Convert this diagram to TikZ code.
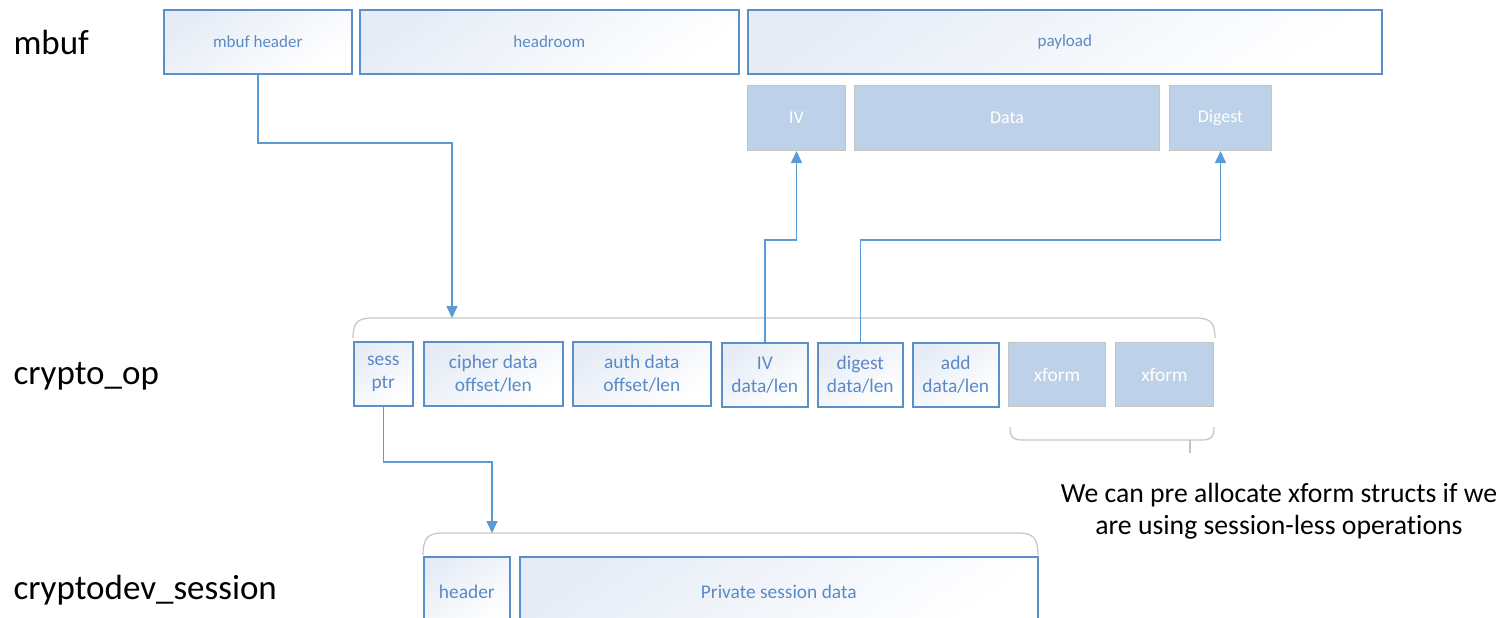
\documentclass[tikz,border=0pt]{standalone}
\usepackage{fontspec}
\setmainfont{Carlito}[Ligatures=NoCommon]
\usetikzlibrary{arrows.meta}
\definecolor{edgeblue}{HTML}{5B8FC9}
\definecolor{txtblue}{HTML}{5A8AC6}
\definecolor{fillblue}{HTML}{BDD1E9}
\definecolor{tintblue}{HTML}{E6ECF6}
\definecolor{bracegray}{HTML}{C4C4C4}
\definecolor{linkblue}{HTML}{5B9BD5}
\tikzset{
  cell/.style={draw=edgeblue, line width=1.6pt, anchor=north west, inner sep=0pt,
    top color=tintblue, bottom color=white, shading angle=35,
    text=txtblue, align=center, font=\fontsize{19.4}{23}\selectfont},
  small/.style={font=\fontsize{17}{20}\selectfont},
  solidcell/.style={draw=bracegray, line width=1pt, fill=fillblue, anchor=north west,
    inner sep=0pt, text=white, align=center, font=\fontsize{18}{22}\selectfont},
  side/.style={anchor=west, font=\fontsize{35}{40}\selectfont, text=black},
  link/.style={draw=linkblue, line width=1.6pt,
    -{Triangle[length=12pt,width=11pt]}},
  bracket/.style={draw=bracegray, line width=1.2pt},
}
\begin{document}
\begin{tikzpicture}[x=1pt,y=-1pt]
\useasboundingbox (0,0) rectangle (1499,618);

% row titles
\node[side] (tmbuf) at (10,42) {mbuf};
\node[side] (top) at (10,376) {crypto\_op};
\node[side] (tsess) at (10,590) {cryptodev\_session};

% mbuf layout
\node[cell, small, minimum width=188, minimum height=64] (mh) at (163,9) {mbuf header};
\node[cell, small, minimum width=379, minimum height=64] (hr) at (359,9) {headroom};
\node[cell, small, minimum width=634, minimum height=64] (pl) at (747,9) {payload};

\node[solidcell, minimum width=98, minimum height=65] (iv) at (747,85) {IV};
\node[solidcell, minimum width=305, minimum height=65] (data) at (854,85) {Data};
\node[solidcell, minimum width=102, minimum height=65] (dg) at (1169,85) {Digest};

% crypto_op fields
\draw[bracket] (353,338) .. controls (353,322) and (358,318) .. (373,318)
  -- (1195,318) .. controls (1210,318) and (1215,322) .. (1215,338);
\coordinate (opTop) at (452,318);

\node[cell, minimum width=59, minimum height=64] (sp) at (353,341) {sess\\ptr};
\node[cell, minimum width=139, minimum height=64] (cd) at (423,341) {cipher data\\offset/len};
\node[cell, minimum width=138, minimum height=64] (ad) at (572,341) {auth data\\offset/len};
\node[cell, minimum width=86, minimum height=64] (ivd) at (721,342) {IV\\data/len};
\node[cell, minimum width=85, minimum height=64] (dgd) at (817,342) {digest\\data/len};
\node[cell, minimum width=86, minimum height=64] (add) at (912,342) {add\\data/len};
\node[solidcell, font=\fontsize{19.4}{22}\selectfont, minimum width=97, minimum height=64] (xf1) at (1008,342) {xform};
\node[solidcell, font=\fontsize{19.4}{22}\selectfont, minimum width=98, minimum height=64] (xf2) at (1115,342) {xform};

% brace under the xform slots
\draw[bracket] (1010,427) .. controls (1010,437) and (1013,440) .. (1022,440)
  -- (1202,440) .. controls (1211,440) and (1214,437) .. (1214,427);
\draw[bracket] (1190,440) -- (1190,453);

\node[align=center, font=\fontsize{27.7}{32}\selectfont, text=black] (note) at (1279,511)
  {We can pre allocate xform structs if we\\are using session-less operations};

% cryptodev_session
\draw[bracket] (423,555) .. controls (423,538) and (428,533) .. (443,533)
  -- (1018,533) .. controls (1033,533) and (1038,538) .. (1038,555);
\coordinate (sessTop) at (492,533);

\node[cell, minimum width=86, minimum height=70] (sh) at (423,556) {header};
\node[cell, minimum width=518, minimum height=70] (sd) at (519,556) {Private session data};

% pointers
\draw[link] (mh.south) -- (mh.south |- 0,143) -| (opTop);
\draw[link] (ivd.north) -- (ivd.north |- 0,240) -| (iv.south);
\draw[link] (dgd.north) -- (dgd.north |- 0,240) -| (dg.south);
\draw[link] (sp.south) -- (sp.south |- 0,462) -| (sessTop);
\end{tikzpicture}
\end{document}
